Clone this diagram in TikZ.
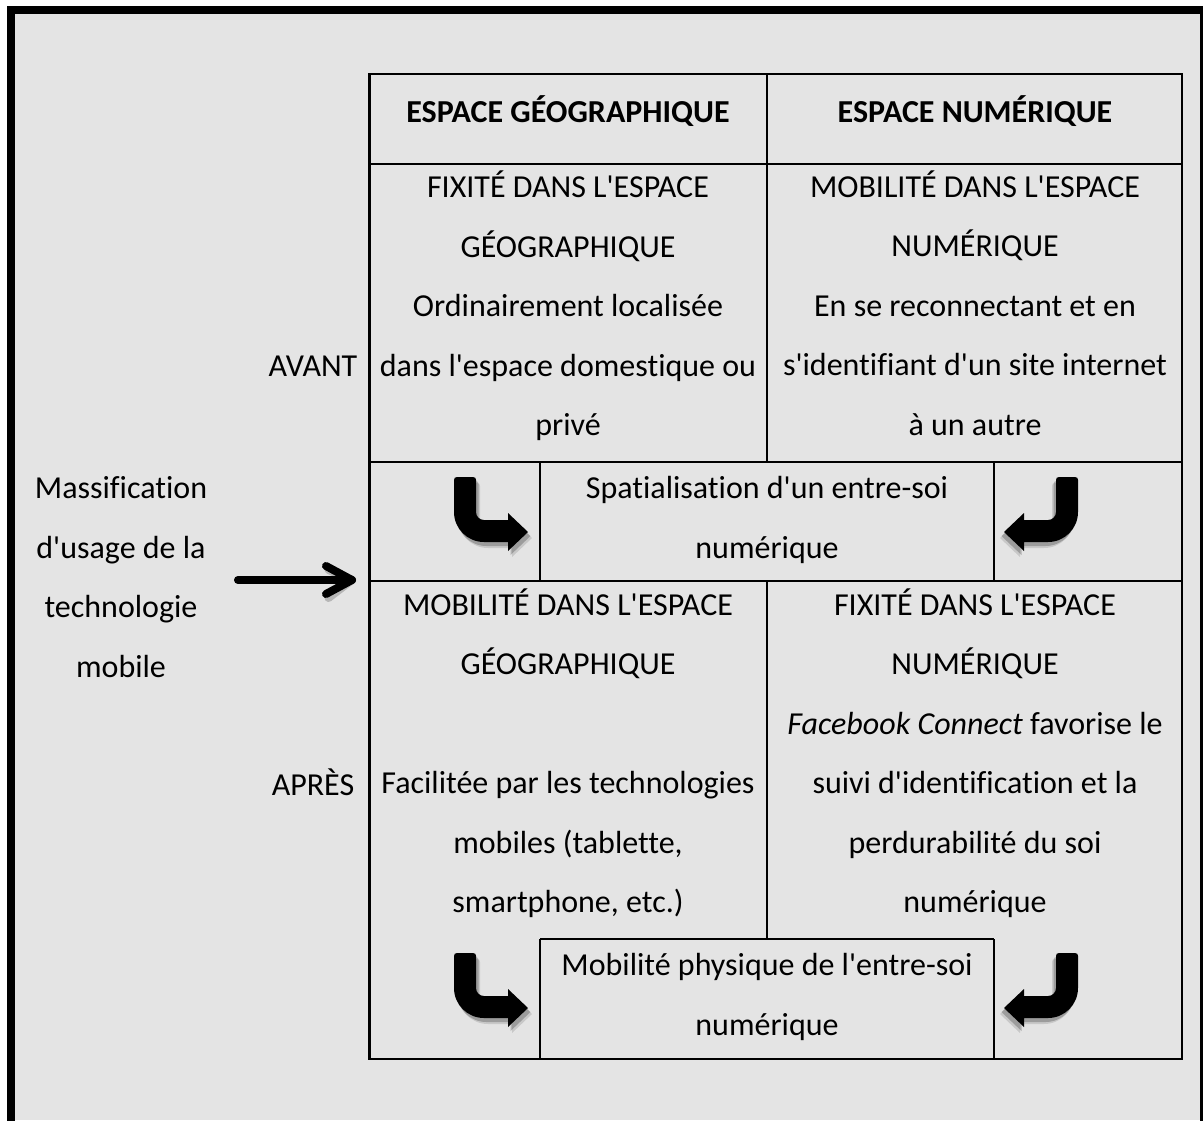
\documentclass[tikz,border=0pt]{standalone}
\usepackage{fontspec}
\setmainfont{Carlito}[Ligatures={TeXOff,CommonOff}]
\definecolor{bggray}{HTML}{E4E4E4}
\tikzset{
  txt/.style={font=\fontsize{32}{59.5}\selectfont, align=center, inner sep=0pt, text=black},
  hdr/.style={txt, font=\fontsize{32}{59.5}\selectfont\bfseries},
  outerline/.style={line width=2.8pt},
  innerline/.style={line width=2pt},
  curveshape/.style={insert path={(3,0) -- (19,0) .. controls (21,0) and (22,1) .. (22,3) -- (22,35) .. controls (22,39.4) and (25.6,43) .. (30,43) -- (54,43) -- (54,36) -- (74,55) -- (54,74) -- (54,65) -- (30,65) .. controls (13.4,65) and (0,51.6) .. (0,35) -- (0,3) .. controls (0,1) and (1,0) .. (3,0) -- cycle}},
  curvearrow/.pic={
    \fill[black, opacity=0.12, shift={(4,6)}, curveshape];
    \fill[black, opacity=0.22, shift={(2.5,4)}, curveshape];
    \fill[black, curveshape];
  }
}
\begin{document}
\begin{tikzpicture}[x=1pt,y=-1pt]
\useasboundingbox (0,0) rectangle (1203,1120);
\clip (0,0) rectangle (1203,1120);
\fill[white] (0,0) rectangle (1203,1120);
\fill[bggray] (7,6) rectangle (1203,1120);
\draw[line width=8pt] (11,10) rectangle (1204,1130);

% table
\draw[outerline] (369.5,74) rectangle (1182,1059);
\draw[innerline] (369.5,164) -- (1182,164);
\draw[innerline] (767,74) -- (767,462);
\draw[innerline] (369.5,462) -- (1182,462);
\draw[innerline] (540,462) -- (540,581);
\draw[innerline] (994,462) -- (994,581);
\draw[innerline] (369.5,581) -- (1182,581);
\draw[innerline] (767,581) -- (767,939);
\draw[innerline] (540,939) -- (994,939);
\draw[innerline] (540,939) -- (540,1059);
\draw[innerline] (994,939) -- (994,1059);

% headers
\node[hdr] (h1) at (568,111) {ESPACE GÉOGRAPHIQUE};
\node[hdr] (h2) at (975,111) {ESPACE NUMÉRIQUE};

% before row
\node[txt] (a1) at (568,306) {FIXITÉ DANS L'ESPACE\\GÉOGRAPHIQUE\\Ordinairement localisée\\dans l'espace domestique ou\\privé};
\node[txt] (a2) at (975,303) {MOBILITÉ DANS L'ESPACE\\NUMÉRIQUE\\En se reconnectant et en\\s'identifiant d'un site internet\\à un autre};
\node[txt] (avant) at (313,366) {AVANT};

% middle
\node[txt] (m) at (767,520) {Spatialisation d'un entre-soi\\numérique};
\pic (ca1) at (454,477) {curvearrow};
\pic[xscale=-1] (ca2) at (1078,477) {curvearrow};

% left label and arrow
\node[txt] (mass) at (121,577) {Massification\\d'usage de la\\technologie\\mobile};
\coordinate (arrS) at (238,580);
\coordinate (arrT) at (352,580);
\draw[line width=8pt, line cap=round, black, opacity=0.2, shift={(2.5,4)}] (arrS) -- (arrT);
\draw[line width=8pt, line cap=round, line join=round, black, opacity=0.2, shift={(2.5,4)}] (326,566) -- (arrT) -- (326,594);
\draw[line width=8pt, line cap=round] (arrS) -- (arrT);
\draw[line width=8pt, line cap=round, line join=round] ([shift={(-26,-14)}]arrT) -- (arrT) -- ([shift={(-26,14)}]arrT);

% after row
\node[txt] (b1) at (568,753) {MOBILITÉ DANS L'ESPACE\\GÉOGRAPHIQUE\\ \\Facilitée par les technologies\\mobiles (tablette,\\smartphone, etc.)};
\node[txt] (b2) at (975,753) {FIXITÉ DANS L'ESPACE\\NUMÉRIQUE\\\textit{Facebook Connect} favorise le\\suivi d'identification et la\\perdurabilité du soi\\numérique};
\node[txt] (apres) at (313,782) {APRÈS};

% bottom
\node[txt] (bm) at (767,997) {Mobilité physique de l'entre-soi\\numérique};
\pic (ca3) at (454,953) {curvearrow};
\pic[xscale=-1] (ca4) at (1078,953) {curvearrow};
\end{tikzpicture}
\end{document}
